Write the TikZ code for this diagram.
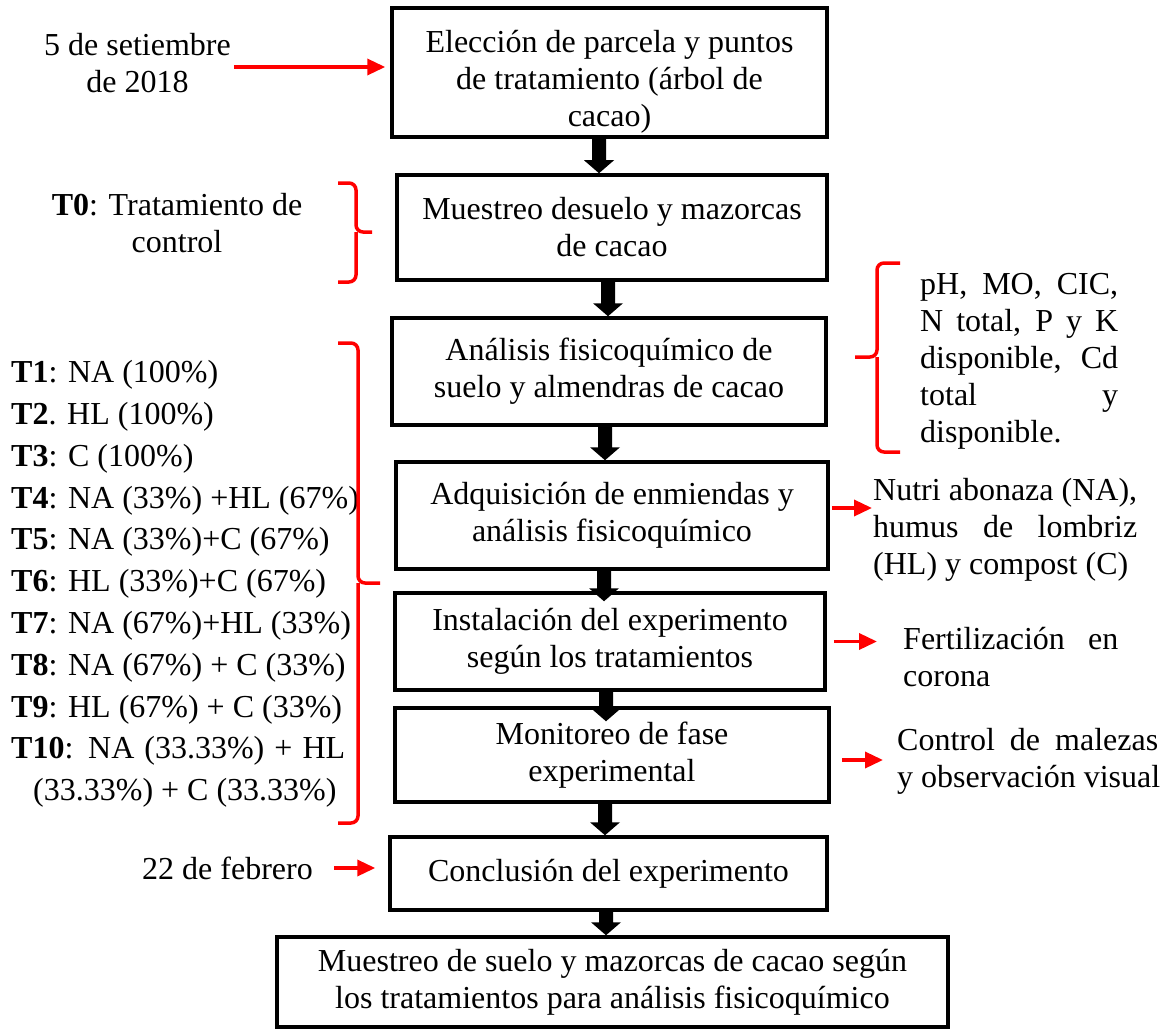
\documentclass[tikz,border=0pt]{standalone}
\usepackage{fontspec}
\setmainfont{Liberation Serif}
\usetikzlibrary{arrows.meta,calc}
\definecolor{myred}{RGB}{255,0,0}
\tikzset{
 box/.style={draw=black, line width=3.5pt, inner sep=0pt, align=center, font=\fontsize{32}{37}\selectfont},
 txt/.style={inner sep=0pt, font=\fontsize{32}{37}\selectfont},
 redarr/.style={draw=myred, line width=3.5pt, -{Triangle[length=18pt 0 0, width=16pt 0 0]}},
 brc/.style={draw=myred, line width=3.5pt, rounded corners=7pt},
}
\newcommand\blkarr[4]{%
 \fill let \p1=(#1.south), \p2=(#2.north) in
 (#3pt-7pt,\y1) -- (#3pt+7pt,\y1) -- (#3pt+7pt,\y2+13pt-#4pt) -- (#3pt+15pt,\y2+13pt-#4pt)
 -- (#3pt,\y2-#4pt) -- (#3pt-15pt,\y2+13pt-#4pt) -- (#3pt-7pt,\y2+13pt-#4pt) -- cycle;}
\begin{document}
\begin{tikzpicture}[x=1pt,y=-1pt]
\fill[white] (0,0) rectangle (1170,1030);
\useasboundingbox (0,0) rectangle (1170,1030);

% main boxes
\node[box, minimum width=435pt, minimum height=129pt] (b1) at (609.5,72.5) {};
\node[txt, align=center] (b1t) at (609.5,81.5) {Elección de parcela y puntos\\de tratamiento (árbol de\\cacao)};
\node[box, minimum width=430pt, minimum height=105pt] (b2) at (612,227.5) {Muestreo desuelo y mazorcas\\de cacao};
\node[box, minimum width=434pt, minimum height=107pt] (b3) at (609,371.5) {Análisis fisicoquímico de\\suelo y almendras de cacao};
\node[box, minimum width=432pt, minimum height=107pt] (b4) at (612,515.5) {Adquisición de enmiendas y\\análisis fisicoquímico};
\node[box, minimum width=430pt, minimum height=97pt] (b5) at (610,641.5) {Instalación del experimento\\según los tratamientos};
\node[box, minimum width=434pt, minimum height=94pt] (b6) at (612,755) {Monitoreo de fase\\experimental};
\node[box, minimum width=437pt, minimum height=73pt] (b7) at (608.5,873.5) {Conclusión del experimento};
\node[box, minimum width=671pt, minimum height=90pt] (b8) at (612.5,982) {Muestreo de suelo y mazorcas de cacao según\\los tratamientos para análisis fisicoquímico};

% black arrows
\blkarr{b1}{b2}{599}{0}
\blkarr{b2}{b3}{608}{0}
\blkarr{b3}{b4}{605}{0}
\blkarr{b4}{b5}{604}{10}
\blkarr{b5}{b6}{606}{15}
\blkarr{b6}{b7}{605}{0}
\blkarr{b7}{b8}{606}{0}

% left texts
\node[txt, align=center] (sept) at (137.5,63.5) {5 de setiembre\\de 2018};
\node[txt, align=center] (t0) at (177,223.5) {\textbf{T0}: Tratamiento de\\control};
\node[txt, align=left, anchor=west, font=\fontsize{32}{41.8}\selectfont] (tl) at (11,584) {%
\textbf{T1}: NA (100\%)\\
\textbf{T2}. HL (100\%)\\
\textbf{T3}: C (100\%)\\
\textbf{T4}: NA (33\%) +HL (67\%)\\
\textbf{T5}: NA (33\%)+C (67\%)\\
\textbf{T6}: HL (33\%)+C (67\%)\\
\textbf{T7}: NA (67\%)+HL (33\%)\\
\textbf{T8}: NA (67\%) + C (33\%)\\
\textbf{T9}: HL (67\%) + C (33\%)\\
\makebox[334pt][s]{\textbf{T10}: NA (33.33\%) + HL}\\
\hspace*{22pt}(33.33\%) + C (33.33\%)};
\node[txt, anchor=east] (feb) at (313,868) {22 de febrero};

% right texts
\node[txt, align=left, anchor=west] (ph) at (920,361.5) {\makebox[198pt][s]{pH, MO, CIC,}\\\makebox[198pt][s]{N total, P y K}\\\makebox[198pt][s]{disponible, Cd}\\\makebox[198pt][s]{total y}\\disponible.};
\node[txt, align=left, anchor=west] (nutri) at (873,530) {\makebox[264pt][s]{Nutri abonaza (NA),}\\\makebox[264pt][s]{humus de lombriz}\\(HL) y compost (C)};
\node[txt, align=left, anchor=west] (fert) at (903,657.5) {\makebox[215pt][s]{Fertilización en}\\corona};
\node[txt, align=left, anchor=west] (ctrl) at (897,761.5) {\makebox[261pt][s]{Control de malezas}\\y observación visual};

% red arrows
\coordinate (sa) at ([yshift=-3.5pt]sept.east);
\draw[redarr, shorten <=3pt, shorten >=5pt] (sa) -- (sa -| b1.west);
\draw[redarr, shorten <=21pt, shorten >=13pt] (feb.east) -- (feb.east -| b7.west);
\coordinate (na) at ([yshift=7.5pt]b4.east);
\draw[redarr, shorten <=2pt, shorten >=1pt] (na) -- (na -| nutri.west);
\draw[redarr, shorten <=7pt, shorten >=26pt] (b5.east) -- (b5.east -| fert.west);
\coordinate (ca) at ([yshift=-5pt]b6.east);
\draw[redarr, shorten <=11pt, shorten >=14pt] (ca) -- (ca -| ctrl.west);

% braces
\draw[brc] (338,183) -- (356,183) -- (356,232) -- (372,232);
\draw[brc] (338,282) -- (356,282) -- (356,232);
\draw[brc] (338,343) -- (358,343) -- (358,583) -- (380,583);
\draw[brc] (338,823) -- (358,823) -- (358,583);
\draw[brc] (900,263) -- (877,263) -- (877,357) -- (855,357);
\draw[brc] (900,452) -- (877,452) -- (877,357);
\end{tikzpicture}
\end{document}
